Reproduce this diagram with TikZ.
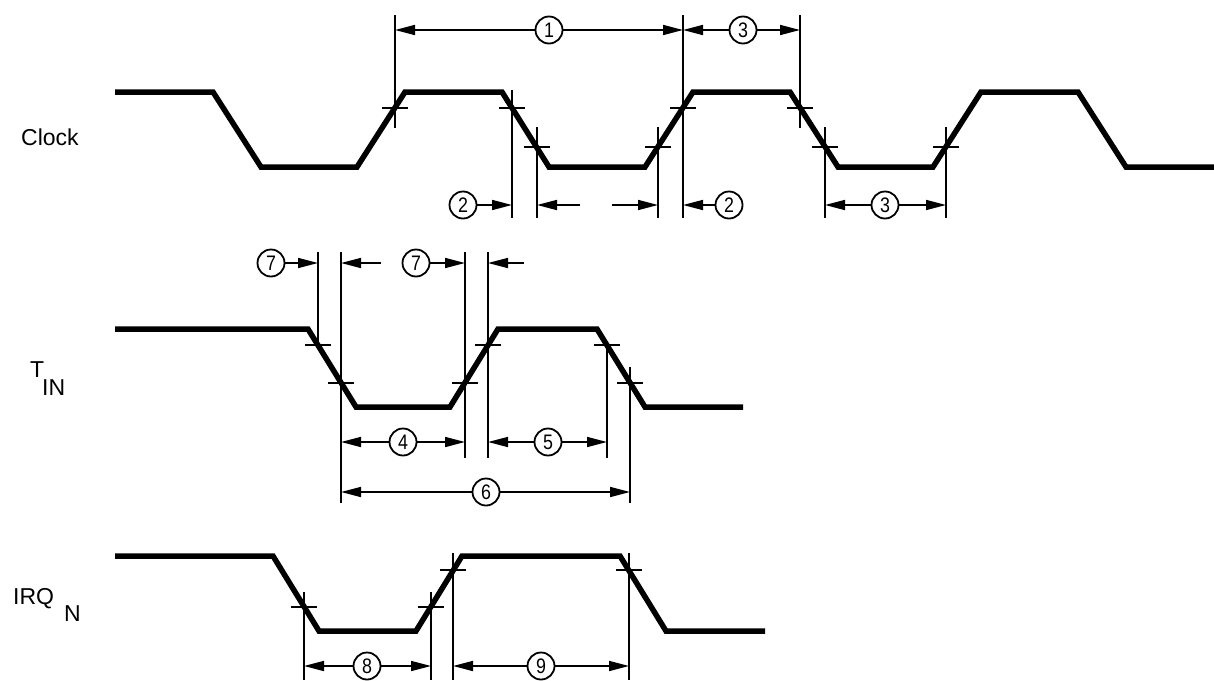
\documentclass[tikz,border=0pt]{standalone}
\usepackage{fontspec}
\setmainfont{Liberation Sans}
\usetikzlibrary{arrows.meta}
\newcommand{\dg}[1]{\scalebox{0.85}[1]{#1}}
\begin{document}
\begin{tikzpicture}[x=1pt,y=-1pt,
  wave/.style={line width=5.5pt, line join=miter, line cap=butt},
  ext/.style={line width=1.5pt},
  tickm/.style={line width=2pt},
  dim/.style={line width=1.6pt, -{Triangle[length=20pt,width=10pt]}},
  num/.style={circle, draw, line width=1.8pt, minimum size=27pt, inner sep=0pt, fill=white, font=\fontsize{21}{21}\selectfont},
  lab/.style={font=\fontsize{23}{26}\selectfont, inner sep=0pt, anchor=base west}
]
\useasboundingbox (0,0) rectangle (1214,680);
\fill[white] (0,0) rectangle (1214,680);

% labels
\node[lab] (clk) at (21,145) {Clock};
\node[lab] (tT) at (30,377) {T};
\node[lab] (tIN) at (42,395) {IN};
\node[lab] (irq) at (13,604) {IRQ};
\node[lab] (irqN) at (64,621) {N};

% waveforms
\draw[wave] (115,92) -- (213,92) -- (261,167) -- (357,167) -- (405,92) -- (502,92) -- (549,167) -- (645,167) -- (693,92) -- (790,92) -- (838,167) -- (933,167) -- (981,92) -- (1078,92) -- (1126,167) -- (1214,167);
\draw[wave] (115,329) -- (308,329) -- (356,407) -- (450,407) -- (498,329) -- (597,329) -- (645,407) -- (743,407);
\draw[wave] (115,556) -- (273,556) -- (319,631) -- (416,631) -- (462,556) -- (620,556) -- (666,631) -- (765,631);

% ticks
\foreach \p in {(395,108),(512,108),(537,147),(658,147),(683,108),(800,108),(825,147),(946,147),
                (318,345),(341,383),(465,383),(488,345),(607,345),(630,383),
                (304,607),(431,607),(453,570),(629,570)}
  \draw[tickm] \p ++(-13,0) -- ++(26,0);

% ---- Clock extension lines
\coordinate (a1t) at (395,15);  \coordinate (a1b) at (395,128);
\coordinate (a2t) at (512,90);  \coordinate (a2b) at (512,218);
\coordinate (a3t) at (537,127); \coordinate (a3b) at (537,218);
\coordinate (a4t) at (658,127); \coordinate (a4b) at (658,218);
\coordinate (a5t) at (683,15);  \coordinate (a5b) at (683,218);
\coordinate (a6t) at (800,15);  \coordinate (a6b) at (800,128);
\coordinate (a7t) at (825,127); \coordinate (a7b) at (825,218);
\coordinate (a8t) at (946,127); \coordinate (a8b) at (946,218);
\foreach \i in {1,...,8} \draw[ext] (a\i t) -- (a\i b);

\node[num] (n1) at (549,30) {\dg{1}};
\node[num] (n3a) at (743,30) {\dg{3}};
\draw[dim] (n1) -- (a1t |- n1);
\draw[dim] (n1) -- (a5t |- n1);
\draw[dim] (n3a) -- (a5t |- n3a);
\draw[dim] (n3a) -- (a6t |- n3a);

\node[num] (n2a) at (463,205) {\dg{2}};
\node[num] (n2b) at (729,205) {\dg{2}};
\node[num] (n3b) at (885,205) {\dg{3}};
\coordinate (m1) at (580,205);
\coordinate (m2) at (612,205);
\draw[dim] (n2a) -- (a2b |- n2a);
\draw[dim] (m1) -- (a3b |- m1);
\draw[dim] (m2) -- (a4b |- m2);
\draw[dim] (n2b) -- (a5b |- n2b);
\draw[dim] (n3b) -- (a7b |- n3b);
\draw[dim] (n3b) -- (a8b |- n3b);

% ---- T_IN extension lines
\coordinate (b1t) at (318,252); \coordinate (b1b) at (318,347);
\coordinate (b2t) at (341,252); \coordinate (b2b) at (341,503);
\coordinate (b3t) at (465,252); \coordinate (b3b) at (465,458);
\coordinate (b4t) at (488,252); \coordinate (b4b) at (488,458);
\coordinate (b5t) at (607,345); \coordinate (b5b) at (607,458);
\coordinate (b6t) at (630,367); \coordinate (b6b) at (630,503);
\foreach \i in {1,...,6} \draw[ext] (b\i t) -- (b\i b);

\node[num] (n7a) at (271,263) {\dg{7}};
\node[num] (n7b) at (416,263) {\dg{7}};
\coordinate (k1) at (381,263);
\coordinate (k2) at (524,263);
\draw[dim] (n7a) -- (b1t |- n7a);
\draw[dim] (k1) -- (b2t |- k1);
\draw[dim] (n7b) -- (b3t |- n7b);
\draw[dim] (k2) -- (b4t |- k2);

\node[num] (n4) at (403,442) {\dg{4}};
\node[num] (n5) at (548,442) {\dg{5}};
\node[num] (n6) at (486,492) {\dg{6}};
\draw[dim] (n4) -- (b2t |- n4);
\draw[dim] (n4) -- (b3t |- n4);
\draw[dim] (n5) -- (b4t |- n5);
\draw[dim] (n5) -- (b5t |- n5);
\draw[dim] (n6) -- (b2t |- n6);
\draw[dim] (n6) -- (b6t |- n6);

% ---- IRQ extension lines
\coordinate (c1t) at (304,592); \coordinate (c1b) at (304,680);
\coordinate (c2t) at (431,592); \coordinate (c2b) at (431,680);
\coordinate (c3t) at (453,553); \coordinate (c3b) at (453,680);
\coordinate (c4t) at (629,553); \coordinate (c4b) at (629,680);
\foreach \i in {1,...,4} \draw[ext] (c\i t) -- (c\i b);

\node[num] (n8) at (367,666) {\dg{8}};
\node[num] (n9) at (541,666) {\dg{9}};
\draw[dim] (n8) -- (c1t |- n8);
\draw[dim] (n8) -- (c2t |- n8);
\draw[dim] (n9) -- (c3t |- n9);
\draw[dim] (n9) -- (c4t |- n9);
\end{tikzpicture}
\end{document}
